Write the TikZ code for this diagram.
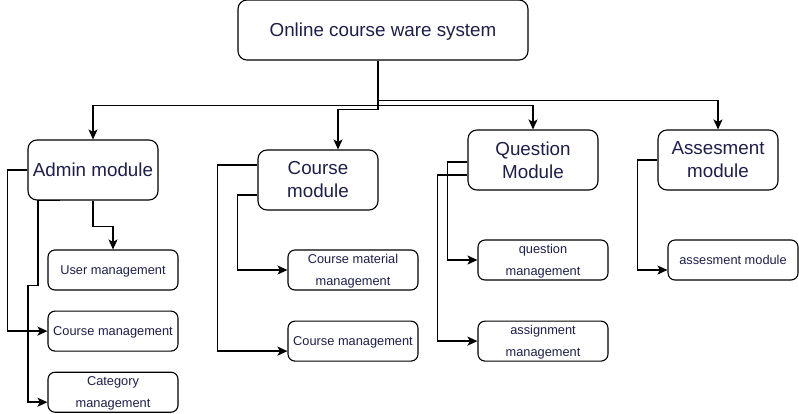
\documentclass[tikz,border=0pt]{standalone}
\usepackage{fontspec}
\setmainfont{Liberation Sans}
\usepackage{xcolor}
\usepackage{tikz}
\usetikzlibrary{arrows.meta,positioning}
\definecolor{cwink}{HTML}{1E1E4C}
\tikzset{
  topbox/.style={rectangle, rounded corners=9pt, draw=black, line width=1.1pt, fill=white, minimum width=290pt, minimum height=60pt, inner sep=0pt, align=center, text depth=0pt, text=cwink, font=\fontsize{18.8}{23}\selectfont},
  module/.style={rectangle, rounded corners=9pt, draw=black, line width=1.1pt, fill=white, minimum width=130pt, minimum height=60pt, inner sep=0pt, align=center, text=cwink, font=\fontsize{18.8}{23}\selectfont},
  task/.style={rectangle, rounded corners=7pt, draw=black, line width=1.1pt, fill=white, minimum width=130pt, minimum height=40pt, inner sep=0pt, align=center, text depth=0pt, text=cwink, font=\fontsize{12.8}{22.5}\selectfont},
  flow/.style={line width=1.8pt, -{Stealth[length=10pt,width=9pt,inset=2.5pt]}},
}

\begin{document}
\begin{tikzpicture}[x=1pt, y=-1pt, node distance=20pt]
  \useasboundingbox (0,0) rectangle (799,413);
  \node[topbox] (cws) at (383,30) {Online course ware system};
  \node[module] (admin) at (93,170) {Admin module};
  \node[module, minimum width=120pt] (course) at (318,180) {Course\\module};
  \node[module] (question) at (533,160) {Question\\Module};
  \node[module, minimum width=120pt] (assess) at (718,160) {Assesment\\module};
  \node[task] (usermgmt) at (113,270) {User management};
  \node[task, below=of usermgmt] (coursemgmt) {Course management};
  \node[task, below=of coursemgmt] (catmgmt) {Category\\management};
  \node[task] (materialmgmt) at (353,270) {Course material\\management};
  \node[task, below=30pt of materialmgmt] (coursemgmtb) {Course management};
  \node[task] (questionmgmt) at (543,260) {question\\management};
  \node[task, below=40pt of questionmgmt] (assignmgmt) {assignment\\management};
  \node[task] (assessmod) at (733,260) {assesment module};
  \coordinate (stem) at ([xshift=-5pt]cws.south);
  \draw[flow] (stem) -- ++(0,45) -| (admin.north);
  \draw[flow] (stem) -- ++(0,49) -| ([xshift=20pt]course.north);
  \draw[flow] (stem) -- ++(0,45) -| (question.north);
  \draw[flow] (stem) -- ++(0,40) -| (assess.north);
  \draw[flow] (admin.south) -- ++(0,26) -| (usermgmt.north);
  \draw[flow] (admin.west) -- ++(-20,0) |- (coursemgmt.west);
  \draw[flow] ([xshift=-33pt]admin.south) -- ++(-22,0) -- ++(0,85) -- ++(-10,0) |- ([yshift=-10pt]catmgmt.west);
  \draw[flow] ([yshift=15pt]course.west) -- ++(-40,0) |- ([yshift=-10pt]coursemgmtb.west);
  \draw[flow] ([yshift=-15pt]course.west) -- ++(-20,0) |- (materialmgmt.west);
  \draw[flow] ([yshift=-2pt]question.west) -- ++(-20,0) |- (questionmgmt.west);
  \draw[flow] ([yshift=-15pt]question.west) -- ++(-30,0) |- (assignmgmt.west);
  \draw[flow] (assess.west) -- ++(-20,0) |- ([yshift=-10pt]assessmod.west);
\end{tikzpicture}
\end{document}
